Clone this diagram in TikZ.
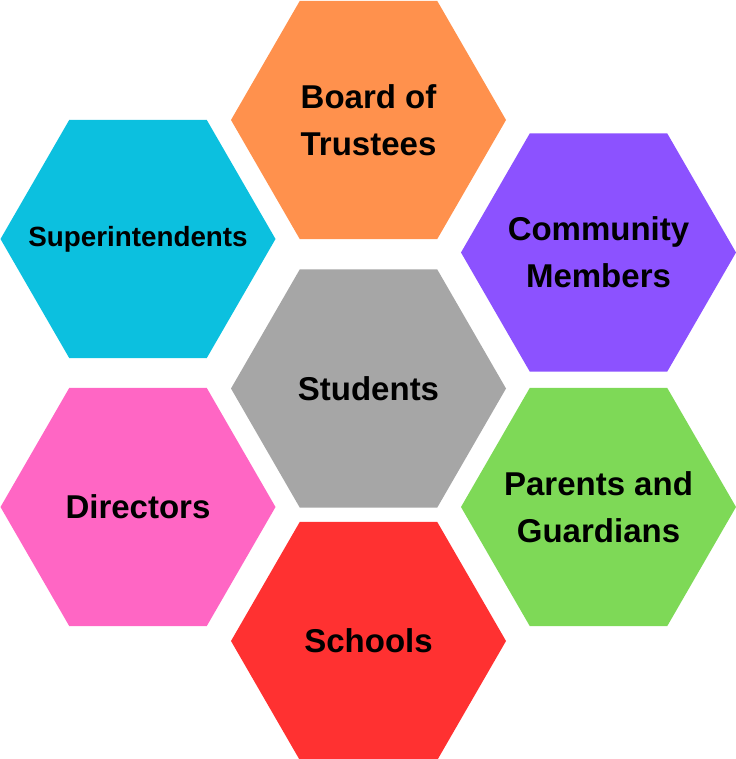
\documentclass[tikz,border=0pt]{standalone}
\usepackage{fontspec}
\setmainfont{Liberation Sans}
\usetikzlibrary{shapes.geometric}
\definecolor{cOrange}{HTML}{FF914D}
\definecolor{cCyan}{HTML}{0CC0DF}
\definecolor{cPurple}{HTML}{8C52FF}
\definecolor{cGray}{HTML}{A6A6A6}
\definecolor{cPink}{HTML}{FF66C4}
\definecolor{cGreen}{HTML}{7ED957}
\definecolor{cRed}{HTML}{FF3131}
\tikzset{
  hexbox/.style={regular polygon, regular polygon sides=6, minimum size=275pt,
    inner sep=0pt, outer sep=0pt, draw=none, fill=#1},
  hextext/.style={inner sep=0pt, align=center,
    font=\bfseries\fontsize{33}{47}\selectfont, text=black},
}
\begin{document}
\begin{tikzpicture}[x=1pt,y=-1pt]
\useasboundingbox (0,0) rectangle (735,759);
\node[hexbox=cOrange] (board) at (368.5,120) {};
\node[hexbox=cCyan] (super) at (138,239) {};
\node[hexbox=cPurple] (comm) at (598.5,252.5) {};
\node[hexbox=cGray] (stud) at (368.5,388.5) {};
\node[hexbox=cPink] (dir) at (138,507) {};
\node[hexbox=cGreen] (par) at (598.5,507) {};
\node[hexbox=cRed] (sch) at (368.5,641) {};
\node[hextext] (tboard) at (board.center) {Board of\\Trustees};
\node[hextext, font=\bfseries\fontsize{27.8}{40}\selectfont] (tsuper) at (super.center) {Superintendents};
\node[hextext] (tcomm) at (comm.center) {Community\\Members};
\node[hextext] (tstud) at (stud.center) {Students};
\node[hextext] (tdir) at (dir.center) {Directors};
\node[hextext] (tpar) at (par.center) {Parents and\\Guardians};
\node[hextext] (tsch) at (sch.center) {Schools};
\end{tikzpicture}
\end{document}
